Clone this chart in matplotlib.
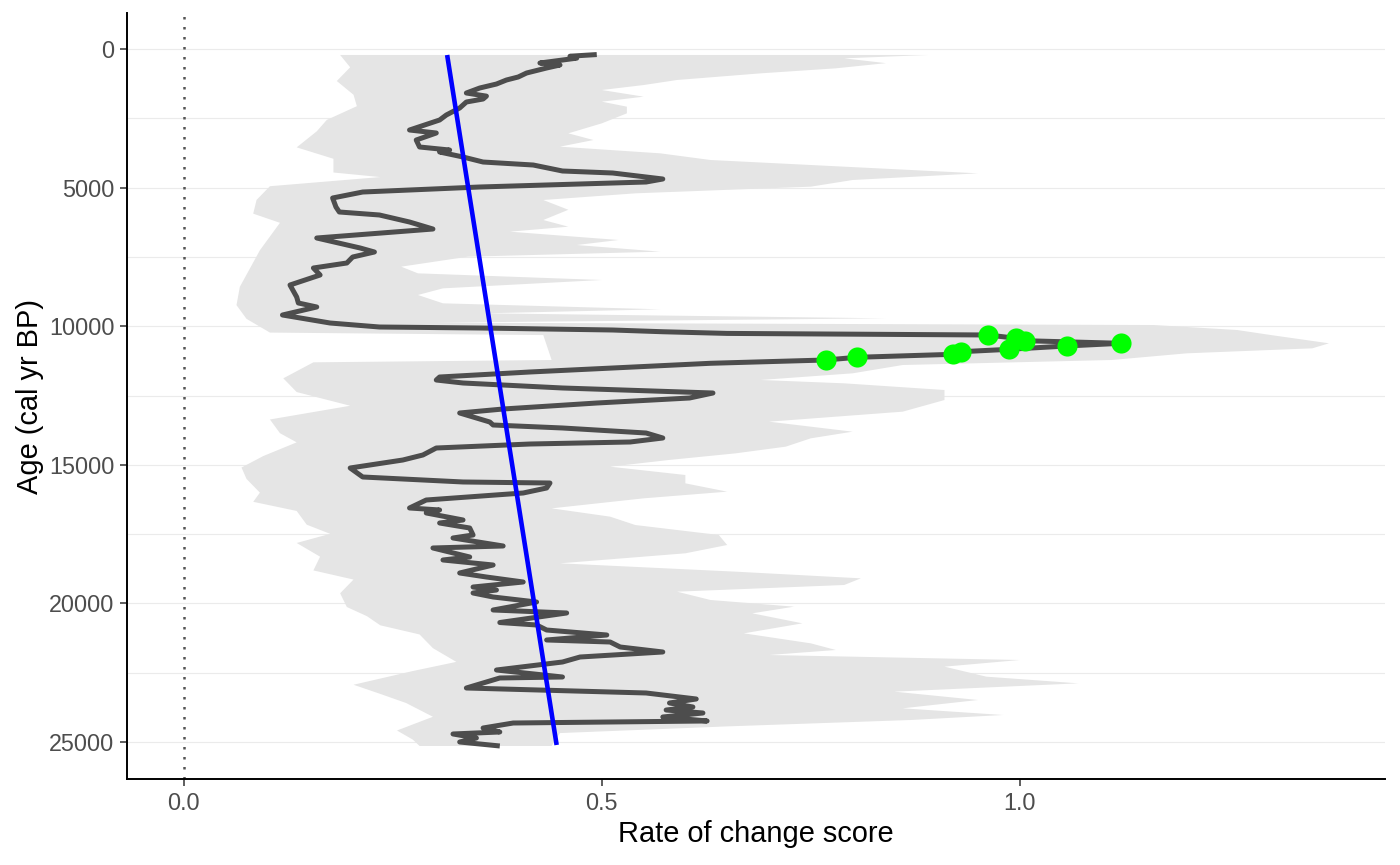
import numpy as np
import matplotlib
matplotlib.use("Agg")
import matplotlib.pyplot as plt

plt.rcParams['font.family'] = ['Liberation Sans', 'DejaVu Sans']

# rate-of-change line (age in cal yr BP, score)
roc_age = [200, 260, 330, 505, 577, 685, 866, 1010, 1118, 1263, 1407, 1587, 1700, 1804,
           1912, 2128, 2381, 2561, 2922, 3030, 3283, 3535, 3644, 3716, 3896, 4077, 4185,
           4401, 4473, 4690, 4798, 4978, 5159, 5375, 5700, 5880, 5988, 6241, 6494, 6818,
           7179, 7323, 7504, 7720, 7900, 8153, 8514, 8947, 9163, 9307, 9596, 9885, 10029,
           10065, 10137, 10200, 10260, 10317, 10437, 10523, 10617, 10714, 10834, 10920,
           11014, 11122, 11219, 11338, 11652, 11833, 11941, 12049, 12229, 12410, 12590,
           12771, 12987, 13131, 13456, 13564, 13672, 13853, 14033, 14177, 14250, 14394,
           14646, 14827, 15115, 15440, 15620, 15657, 15837, 16017, 16270, 16558, 16630,
           16738, 16991, 17100, 17280, 17532, 17640, 17929, 18001, 18326, 18434, 18615,
           18903, 19048, 19228, 19409, 19517, 19625, 19769, 19950, 20238, 20346, 20690,
           20779, 20960, 21140, 21320, 21393, 21573, 21753, 21934, 22114, 22403, 22655,
           22691, 23052, 23232, 23449, 23593, 23737, 23846, 23954, 24098, 24242, 24315,
           24495, 24639, 24711, 24856, 25000, 25144]
roc_val = [0.494, 0.462, 0.470, 0.426, 0.450, 0.434, 0.410, 0.400, 0.386, 0.374, 0.354,
           0.338, 0.362, 0.358, 0.338, 0.330, 0.314, 0.306, 0.270, 0.302, 0.278, 0.282,
           0.318, 0.306, 0.334, 0.358, 0.418, 0.453, 0.513, 0.573, 0.553, 0.354, 0.214,
           0.178, 0.182, 0.186, 0.234, 0.270, 0.298, 0.159, 0.211, 0.228, 0.202, 0.195,
           0.155, 0.163, 0.127, 0.135, 0.137, 0.159, 0.118, 0.175, 0.234, 0.354, 0.513,
           0.573, 0.650, 0.962, 0.996, 1.006, 1.121, 1.056, 0.987, 0.930, 0.920, 0.805,
           0.768, 0.630, 0.414, 0.306, 0.302, 0.334, 0.453, 0.633, 0.605, 0.494, 0.382,
           0.330, 0.366, 0.370, 0.453, 0.553, 0.573, 0.534, 0.414, 0.302, 0.286, 0.262,
           0.199, 0.214, 0.334, 0.438, 0.434, 0.406, 0.290, 0.270, 0.306, 0.290, 0.334,
           0.306, 0.342, 0.346, 0.322, 0.382, 0.298, 0.342, 0.310, 0.370, 0.330, 0.362,
           0.406, 0.346, 0.374, 0.346, 0.370, 0.422, 0.370, 0.458, 0.378, 0.422, 0.434,
           0.506, 0.434, 0.510, 0.522, 0.573, 0.474, 0.453, 0.374, 0.453, 0.378, 0.338,
           0.553, 0.613, 0.581, 0.609, 0.577, 0.621, 0.573, 0.626, 0.394, 0.358, 0.378,
           0.322, 0.350, 0.330, 0.378]

# uncertainty ribbon edges
upper_age = [216, 337, 510, 697, 878, 1118, 1300, 1479, 1720, 1900, 2080, 2321, 2682,
             3042, 3283, 3523, 3764, 4004, 4305, 4485, 4726, 4966, 5207, 5447, 5800,
             6169, 6410, 6590, 6890, 7071, 7311, 7492, 7852, 8093, 8333, 8634, 8874,
             9175, 9391, 9535, 9716, 9872, 9957, 10137, 10317, 10617, 10798, 10978,
             11219, 11400, 11700, 11940, 12061, 12302, 12663, 13083, 13444, 13805,
             14045, 14346, 14587, 14827, 15068, 15368, 15669, 15969, 16210, 16571,
             16871, 17172, 17532, 17893, 18193, 18554, 18855, 19096, 19336, 19577,
             19877, 20118, 20358, 20719, 21080, 21441, 21681, 21862, 22042, 22282,
             22643, 22884, 23184, 23485, 23785, 24026, 24206, 24437, 24678, 25144]
upper_val = [0.89, 0.79, 0.84, 0.78, 0.69, 0.59, 0.55, 0.50, 0.55, 0.50, 0.53, 0.53,
             0.50, 0.46, 0.49, 0.45, 0.57, 0.63, 0.83, 0.95, 0.80, 0.75, 0.54, 0.43,
             0.46, 0.43, 0.46, 0.39, 0.52, 0.47, 0.57, 0.34, 0.26, 0.28, 0.50, 0.31,
             0.28, 0.31, 0.57, 0.36, 0.84, 0.30, 1.16, 1.26, 1.30, 1.37, 1.35, 1.20,
             1.11, 0.86, 0.80, 0.69, 0.79, 0.91, 0.91, 0.86, 0.70, 0.80, 0.75, 0.72,
             0.66, 0.58, 0.51, 0.60, 0.60, 0.65, 0.55, 0.44, 0.51, 0.54, 0.64, 0.65,
             0.60, 0.45, 0.66, 0.81, 0.79, 0.59, 0.63, 0.73, 0.68, 0.74, 0.67, 0.75,
             0.78, 0.70, 1.00, 0.91, 0.96, 1.07, 0.85, 0.95, 0.86, 0.98, 0.87, 0.65,
             0.45, 0.44]
lower_age = [216, 660, 1155, 1650, 2063, 2558, 2970, 3548, 3960, 4455, 4620, 4950, 5445,
             5940, 6270, 6765, 7260, 7920, 8580, 9240, 9735, 10230, 10320, 11220, 11303,
             11880, 12375, 12870, 13365, 13860, 14190, 14685, 15098, 15510, 16005,
             16335, 16665, 17160, 17490, 17820, 18315, 18810, 19140, 19635, 20130,
             20460, 20790, 21120, 21615, 22110, 22440, 22935, 23265, 23595, 24090,
             24585, 24915, 25144]
lower_val = [0.187, 0.199, 0.183, 0.203, 0.207, 0.171, 0.159, 0.135, 0.179, 0.179,
             0.235, 0.103, 0.087, 0.083, 0.115, 0.103, 0.091, 0.079, 0.067, 0.063,
             0.075, 0.103, 0.430, 0.440, 0.155, 0.119, 0.135, 0.199, 0.103, 0.115,
             0.135, 0.095, 0.069, 0.075, 0.091, 0.083, 0.135, 0.147, 0.175, 0.135,
             0.163, 0.155, 0.203, 0.187, 0.195, 0.219, 0.235, 0.282, 0.298, 0.326,
             0.274, 0.203, 0.235, 0.266, 0.298, 0.255, 0.274, 0.282]

# significant peak points
peak_age = [10317, 10437, 10523, 10617, 10714, 10834, 10920, 11014, 11122, 11219]
peak_val = [0.962, 0.996, 1.006, 1.121, 1.056, 0.987, 0.930, 0.920, 0.805, 0.768]

# linear trend
trend_age = [216, 25108]
trend_val = [0.315, 0.446]

y_ticks = [0, 5000, 10000, 15000, 20000, 25000]
x_ticks = [0.0, 0.5, 1.0]
x_labels = ['0.0', '0.5', '1.0']

fig = plt.figure(figsize=(14, 8.65), dpi=100)
ax = fig.add_axes([127 / 1400, 1 - 779 / 865, 1258 / 1400, 766 / 865])

ax.set_xlim(-0.068, 1.437)
ax.set_ylim(26335, -1299)

# grid lines
for g in range(0, 25001, 2500):
    ax.axhline(g, color='#EBEBEB', lw=0.8, zorder=0)

# ribbon
ax.fill(np.r_[upper_val, lower_val[::-1]], np.r_[upper_age, lower_age[::-1]],
        color='#E5E5E5', lw=0, zorder=1)

ax.axvline(0, color='#555555', lw=1.8, ls=(0, (1, 3)), zorder=2)

ax.plot(roc_val, roc_age, color='#4D4D4D', lw=3.6, solid_joinstyle='round',
        solid_capstyle='butt', zorder=3)
ax.plot(trend_val, trend_age, color='#0000FF', lw=3.3, solid_capstyle='butt', zorder=4)
ax.scatter(peak_val, peak_age, s=210, color='#00FF00', lw=0, zorder=5)

ax.set_xticks(x_ticks)
ax.set_xticklabels(x_labels)
ax.set_yticks(y_ticks)
ax.tick_params(axis='both', labelsize=16.8, labelcolor='#4D4D4D', color='#333333',
               length=5, width=1.1, pad=4)

for side in ['top', 'right']:
    ax.spines[side].set_visible(False)
for side in ['left', 'bottom']:
    ax.spines[side].set_linewidth(1.4)
    ax.spines[side].set_color('black')

ax.set_xlabel('Rate of change score', fontsize=20.9)
ax.set_ylabel('Age (cal yr BP)', fontsize=20.9)
ax.xaxis.set_label_coords(0.5, -0.053)
ax.yaxis.set_label_coords(-0.066, 0.5)

fig.savefig('out.png', dpi=100)
